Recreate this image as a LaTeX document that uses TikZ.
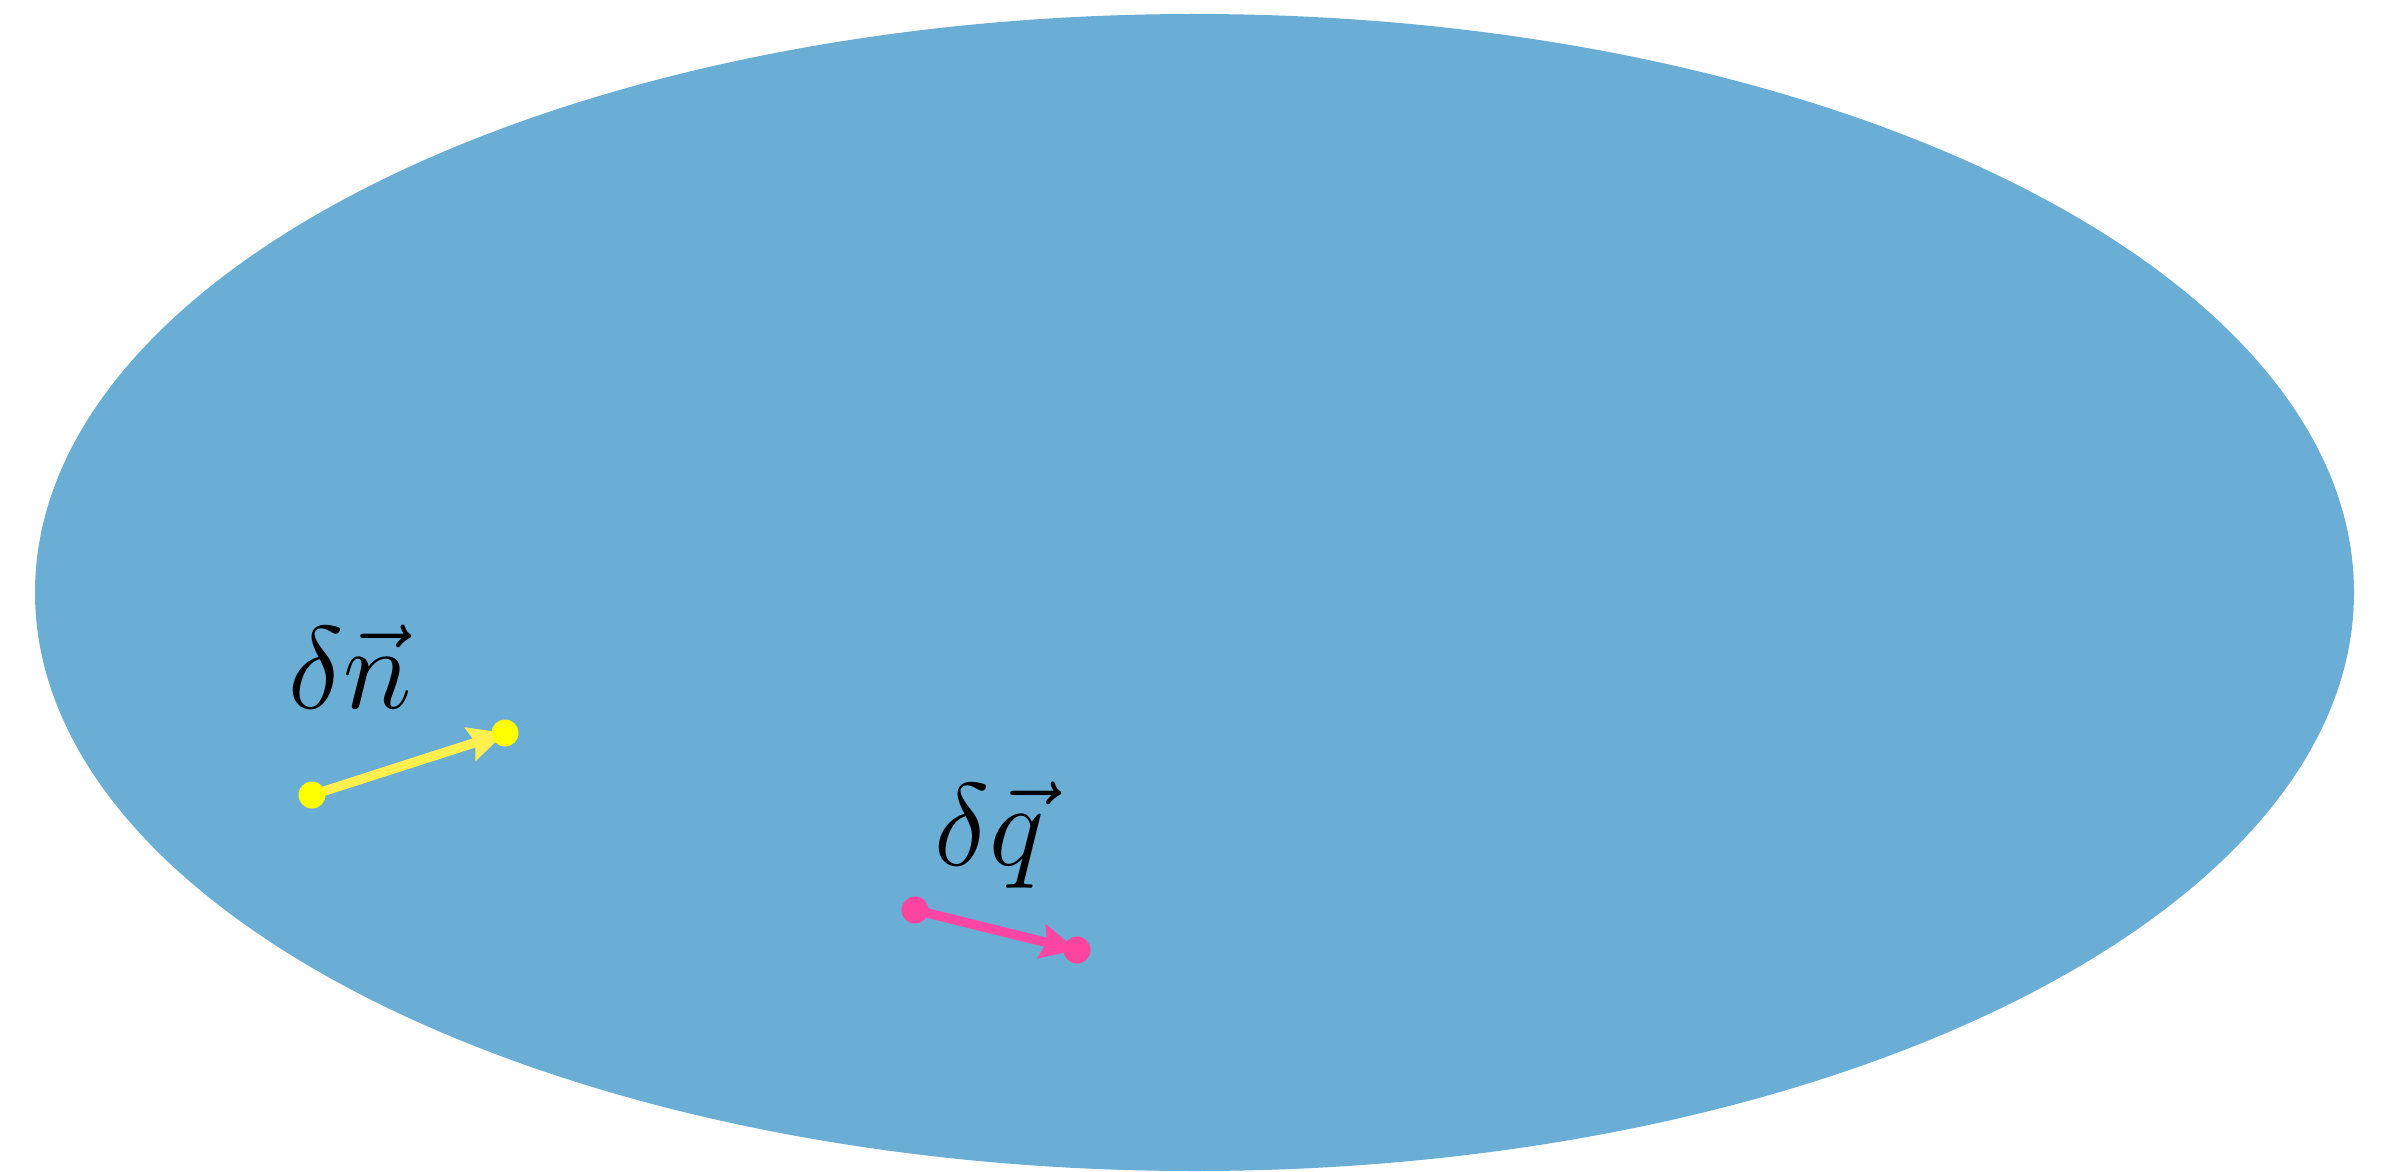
\documentclass[tikz,border=0pt]{standalone}
\usepackage{graphicx}
\usetikzlibrary{arrows.meta}
\definecolor{skyblue}{RGB}{106,173,213}
\definecolor{dotyellow}{RGB}{255,255,0}
\definecolor{arryellow}{RGB}{255,240,80}
\definecolor{dotpink}{RGB}{255,68,160}
\definecolor{arrpink}{RGB}{255,70,165}
\newcommand{\biglabel}[1]{\scalebox{1.34}{\fontsize{24.88}{30}\selectfont #1}}
\tikzset{
  vecarrow/.style={line width=2.7pt, -{Stealth[length=0.36cm,width=0.34cm,inset=0.05cm]}},
  vdot/.style={circle, inner sep=0pt, minimum size=0.27cm},
  vlabel/.style={inner sep=0pt}
}
\begin{document}
\begin{tikzpicture}[x=1cm,y=1cm]
\useasboundingbox (0,0) rectangle (23.87,11.71);
% ellipse region
\fill[skyblue] (11.945,5.785) ellipse [x radius=11.595, y radius=5.785];
% end points
\coordinate (n0) at (3.12,3.76);
\coordinate (n1) at (5.05,4.38);
\coordinate (q0) at (9.15,2.61);
\coordinate (q1) at (10.77,2.21);
% arrows
\draw[vecarrow, arryellow] (n0) -- (n1);
\draw[vecarrow, arrpink] (q0) -- (q1);
% dots
\node[vdot, fill=dotyellow] (dn0) at (n0) {};
\node[vdot, fill=dotyellow] (dn1) at (n1) {};
\node[vdot, fill=dotpink] (dq0) at (q0) {};
\node[vdot, fill=dotpink] (dq1) at (q1) {};
% labels
\node[vlabel] (ln) at (3.50,5.04) {\biglabel{$\delta\vec{n}$}};
\node[vlabel] (lq) at (9.90,3.36) {\biglabel{$\delta\vec{q}$}};
\end{tikzpicture}
\end{document}
